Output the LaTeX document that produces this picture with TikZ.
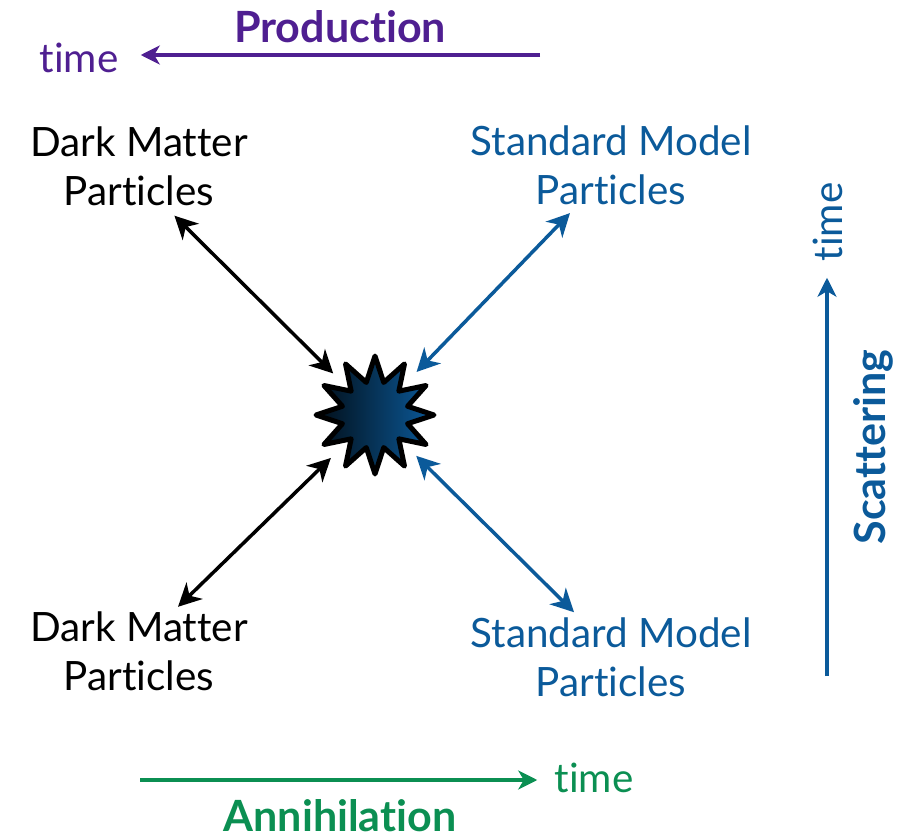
\documentclass[tikz,border=0pt]{standalone}
\usepackage{fontspec}
\setmainfont{Lato}[Ligatures=NoCommon]
\usepackage{tikz}
\usetikzlibrary{
	arrows.meta,
	positioning,
	shapes.geometric,
}
\definecolor{prodpurple}{HTML}{4F1F91}
\definecolor{smblue}{HTML}{0B5A9A}
\definecolor{annigreen}{HTML}{0B8F52}
\tikzset{particle label/.style={
	align=center,
	inner sep=0mm,
	font=\fontsize{23}{27.8}\selectfont,
}}
\tikzset{time label/.style={
	inner sep=0mm,
	font=\fontsize{23}{26}\selectfont,
}}
\tikzset{process label/.style={
	inner sep=0mm,
	font=\fontsize{24.5}{28}\selectfont\bfseries,
}}
\tikzset{both arrow/.style={
	<->,
	>={Stealth[length=4.6mm,width=4.6mm,inset=1.4mm]},
	line width=0.7mm,
}}
\tikzset{time arrow/.style={
	->,
	>={Stealth[length=3.8mm,width=3.8mm,inset=1.1mm]},
	line width=0.65mm,
}}
\begin{document}
\begin{tikzpicture}
\useasboundingbox (0,0) rectangle (18.2,-16.74);

\node[draw=black, line width=1mm, line join=round, star, star points=12, star point ratio=1.75,
	inner sep=0mm, minimum size=2.36cm, left color=black!85!smblue, right color=smblue](burst) at (7.5,-8.3) {};

\node[particle label](dmtop) at (2.78,-3.32) {Dark Matter\\Particles};
\node[particle label, smblue](smtop) at (12.22,-3.3) {Standard Model\\Particles};
\node[particle label](dmbot) at (2.78,-13.03) {Dark Matter\\Particles};
\node[particle label, smblue](smbot) at (12.22,-13.14) {Standard Model\\Particles};

% particles <-> burst
\draw[both arrow, shorten <=2.8mm, shorten >=4.1mm] ([xshift=5.1mm]dmtop.south) -- (burst);
\draw[both arrow, smblue, shorten <=2.3mm, shorten >=4.1mm] ([xshift=-6.6mm]smtop.south) -- (burst);
\draw[both arrow, shorten <=1.4mm, shorten >=4.5mm] ([xshift=6.8mm]dmbot.north) -- (burst);
\draw[both arrow, smblue, shorten <=1.4mm, shorten >=3.9mm] ([xshift=-6.4mm]smbot.north) -- (burst);

% production
\node[process label, prodpurple](production) at (6.8,-0.54) {Production};
\node[time label, prodpurple](prodtime) at (1.58,-1.16) {time};
\coordinate (prodstart) at (10.8,-1.1);
\draw[time arrow, prodpurple, shorten >=4.4mm] (prodstart) -- (prodtime.east |- prodstart);

% annihilation
\node[process label, annigreen](annihilation) at (6.8,-16.32) {Annihilation};
\node[time label, annigreen](annitime) at (11.88,-15.56) {time};
\coordinate (annistart) at (2.8,-15.6);
\draw[time arrow, annigreen, shorten >=3.4mm] (annistart) -- (annitime.west |- annistart);

% scattering
\node[process label, smblue, rotate=90](scattering) at (17.46,-8.94) {Scattering};
\node[time label, smblue, rotate=90](scattime) at (16.56,-4.44) {time};
\coordinate (scatstart) at (16.54,-13.52);
\draw[time arrow, smblue, shorten >=3.2mm] (scatstart) -- (scatstart |- scattime.west);

\end{tikzpicture}
\end{document}
